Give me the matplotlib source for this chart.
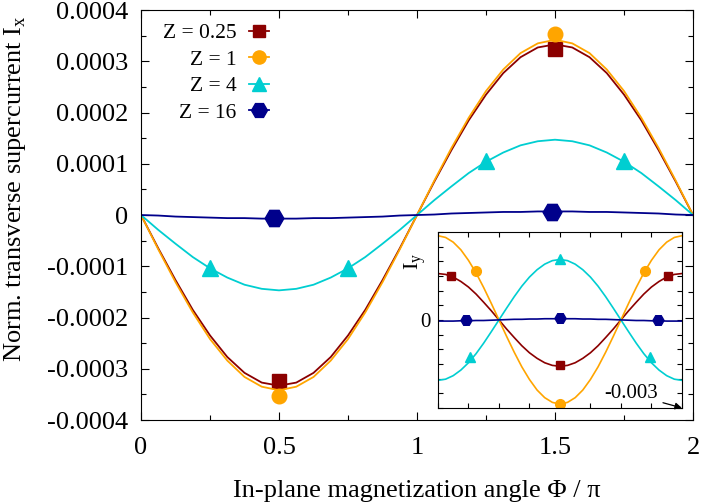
import numpy as np
import matplotlib
matplotlib.use("Agg")
import matplotlib.pyplot as plt
from matplotlib.lines import Line2D
from matplotlib.ticker import MultipleLocator, FuncFormatter

plt.rcParams['font.family'] = ['Liberation Serif', 'DejaVu Serif']
plt.rcParams['mathtext.fontset'] = 'custom'
plt.rcParams['mathtext.rm'] = 'Liberation Serif'
plt.rcParams['axes.unicode_minus'] = False

# --- data ----------------------------------------------------------------
labels = ["Z = 0.25", "Z = 1", "Z = 4", "Z = 16"]
colors = ["#8b0000", "#ffa500", "#00ced1", "#00008b"]
markers = ["s", "o", "^", "H"]

# curves sampled every 1/16 of pi
phi = np.linspace(0, 2, 33)

# main panel, I_x in units of 1e-4
ix_z025 = [0, -0.65, -1.27, -1.85, -2.35, -2.77, -3.08, -3.27, -3.33, -3.27, -3.08, -2.77, -2.35, -1.85, -1.27, -0.65, 0,
           0.65, 1.27, 1.85, 2.35, 2.77, 3.08, 3.27, 3.33, 3.27, 3.08, 2.77, 2.35, 1.85, 1.27, 0.65, 0]
ix_z1 = [0, -0.67, -1.31, -1.90, -2.42, -2.84, -3.16, -3.35, -3.42, -3.35, -3.16, -2.84, -2.42, -1.90, -1.31, -0.67, 0,
         0.67, 1.31, 1.90, 2.42, 2.84, 3.16, 3.35, 3.42, 3.35, 3.16, 2.84, 2.42, 1.90, 1.31, 0.67, 0]
ix_z4 = [0, -0.29, -0.56, -0.82, -1.04, -1.22, -1.36, -1.44, -1.47, -1.44, -1.36, -1.22, -1.04, -0.82, -0.56, -0.29, 0,
         0.29, 0.56, 0.82, 1.04, 1.22, 1.36, 1.44, 1.47, 1.44, 1.36, 1.22, 1.04, 0.82, 0.56, 0.29, 0]
ix_z16 = [0, -0.01, -0.03, -0.04, -0.05, -0.06, -0.06, -0.07, -0.07, -0.07, -0.06, -0.06, -0.05, -0.04, -0.03, -0.01, 0,
          0.01, 0.03, 0.04, 0.05, 0.06, 0.06, 0.07, 0.07, 0.07, 0.06, 0.06, 0.05, 0.04, 0.03, 0.01, 0]

# main panel symbols
pts_phi = [[0.5, 1.5], [0.5, 1.5], [0.25, 0.75, 1.25, 1.75], [0.48, 1.49]]
pts_ix = [[-3.24, 3.24], [-3.53, 3.53], [-1.04, -1.04, 1.06, 1.06], [-0.06, 0.06]]

# inset, I_y in units of 1e-3
iy_z025 = [1.58, 1.55, 1.46, 1.31, 1.12, 0.88, 0.60, 0.31, 0, -0.31, -0.60, -0.88, -1.12, -1.31, -1.46, -1.55, -1.58,
           -1.55, -1.46, -1.31, -1.12, -0.88, -0.60, -0.31, 0, 0.31, 0.60, 0.88, 1.12, 1.31, 1.46, 1.55, 1.58]
iy_z1 = [2.87, 2.81, 2.65, 2.39, 2.03, 1.60, 1.10, 0.56, 0, -0.56, -1.10, -1.60, -2.03, -2.39, -2.65, -2.81, -2.87,
         -2.81, -2.65, -2.39, -2.03, -1.60, -1.10, -0.56, 0, 0.56, 1.10, 1.60, 2.03, 2.39, 2.65, 2.81, 2.87]
iy_z4 = [-2.06, -2.02, -1.90, -1.71, -1.46, -1.15, -0.79, -0.40, 0, 0.40, 0.79, 1.15, 1.46, 1.71, 1.90, 2.02, 2.06,
         2.02, 1.90, 1.71, 1.46, 1.15, 0.79, 0.40, 0, -0.40, -0.79, -1.15, -1.46, -1.71, -1.90, -2.02, -2.06]
iy_z16 = [-0.04, -0.04, -0.04, -0.03, -0.03, -0.02, -0.02, -0.01, 0, 0.01, 0.02, 0.02, 0.03, 0.03, 0.04, 0.04, 0.04,
          0.04, 0.04, 0.03, 0.03, 0.02, 0.02, 0.01, 0, -0.01, -0.02, -0.02, -0.03, -0.03, -0.04, -0.04, -0.04]

ins_phi = [[0.11, 1.0, 1.89], [0.31, 1.0, 1.70], [0.26, 1.0, 1.74], [0.23, 1.0, 1.80]]
ins_iy = [[1.50, -1.53, 1.50], [1.67, -2.85, 1.67], [-1.28, 2.08, -1.28], [0.0, 0.05, 0.0]]

ix_curves = [ix_z025, ix_z1, ix_z4, ix_z16]
iy_curves = [iy_z025, iy_z1, iy_z4, iy_z16]

big_ms = [10, 10.5, 11, 13.5]
leg_ms = [9, 9.5, 10, 11.5]
small_ms = [6, 7, 7, 8]

# --- main axes -------------------------------------------------------------
fig = plt.figure(figsize=(7.03, 5.03), dpi=100)
ax = fig.add_axes([0.2006, 0.165, 0.7852, 0.815])

for i in range(4):
    ax.plot(phi, np.array(ix_curves[i]) * 1e-4, color=colors[i], lw=1.3)
    ax.plot(pts_phi[i], np.array(pts_ix[i]) * 1e-4, ls="none", marker=markers[i],
            color=colors[i], ms=big_ms[i])

ax.set_xlim(0, 2)
ax.set_ylim(-0.0004, 0.0004)
ax.xaxis.set_major_locator(MultipleLocator(0.5))
ax.xaxis.set_minor_locator(MultipleLocator(0.25))
ax.yaxis.set_major_locator(MultipleLocator(0.0001))
ax.yaxis.set_minor_locator(MultipleLocator(0.00005))
ax.xaxis.set_major_formatter(FuncFormatter(lambda v, p: "%g" % v))
ax.yaxis.set_major_formatter(FuncFormatter(lambda v, p: "0" if abs(v) < 1e-9 else "%.4f" % v))
ax.tick_params(which="both", direction="in", top=True, right=True, labelsize=19, width=0.8)
ax.tick_params(which="major", length=6)
ax.tick_params(which="minor", length=3.5)
ax.tick_params(axis="x", pad=12)
ax.tick_params(axis="y", pad=9)

ax.set_xlabel("In-plane magnetization angle \u03a6 / \u03c0", fontsize=19, labelpad=15)
ax.set_ylabel("Norm. transverse supercurrent I$_\\mathregular{x}$", fontsize=19)
ax.yaxis.set_label_coords(-0.205, 0.565)

handles = [Line2D([], [], color=colors[i], marker=markers[i], ms=leg_ms[i], lw=1.3) for i in range(4)]
ax.legend(handles, labels, loc="upper left", bbox_to_anchor=(0.012, 1.005), frameon=False,
          markerfirst=False, fontsize=15.5, handlelength=0.9, handletextpad=0.6,
          labelspacing=0.3, borderaxespad=0.3)

# --- inset -----------------------------------------------------------------
ins = fig.add_axes([0.623, 0.189, 0.347, 0.350])
for i in range(4):
    ins.plot(phi, np.array(iy_curves[i]) * 1e-3, color=colors[i], lw=1.2)
    ins.plot(ins_phi[i], np.array(ins_iy[i]) * 1e-3, ls="none", marker=markers[i],
             color=colors[i], ms=small_ms[i])

ins.set_xlim(0, 2)
ins.set_ylim(-0.003, 0.003)
ins.xaxis.set_major_locator(MultipleLocator(0.25))
ins.yaxis.set_major_locator(MultipleLocator(0.0005))
ins.xaxis.set_major_formatter(FuncFormatter(lambda v, p: ""))
ins.yaxis.set_major_formatter(FuncFormatter(lambda v, p: "0" if abs(v) < 1e-9 else ""))
ins.tick_params(direction="in", top=True, right=True, length=3.5, width=0.8, labelsize=15, pad=5)
ins.set_ylabel("I$_\\mathregular{y}$", fontsize=16)
ins.yaxis.set_label_coords(-0.035, 0.83)
ins.annotate("-0.003", xy=(2, -0.003), xytext=(1.8, -0.00252), ha="right", va="center",
             fontsize=15, arrowprops=dict(arrowstyle="-|>", color="black", lw=0.9,
                                          shrinkA=2, shrinkB=0, mutation_scale=10))

fig.savefig("out.png", dpi=100)
